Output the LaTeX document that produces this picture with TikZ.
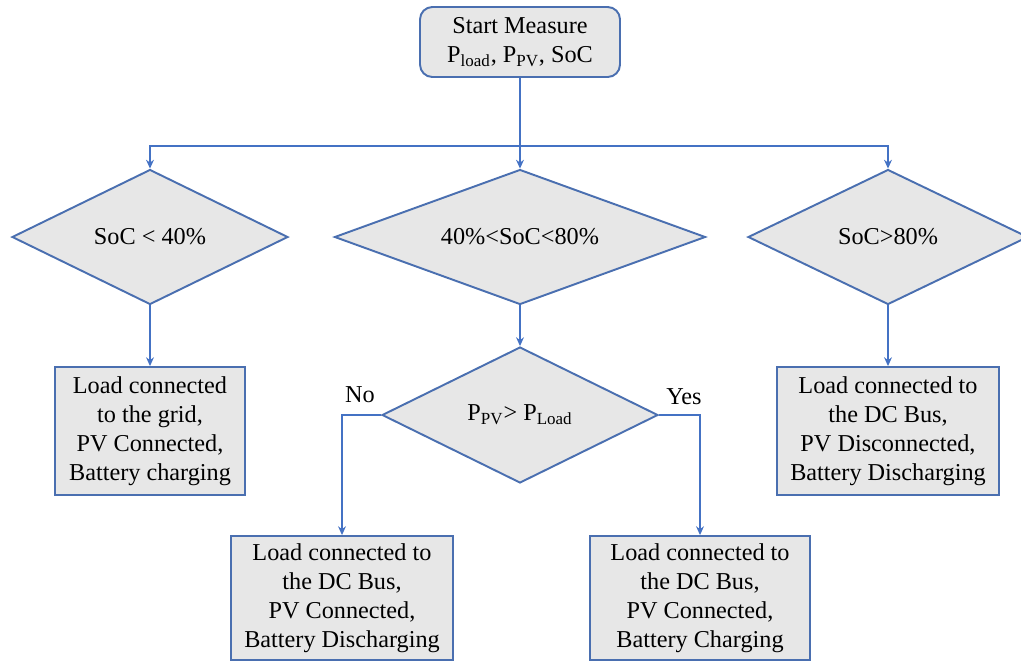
\documentclass[tikz,border=0pt]{standalone}
\usepackage{fontspec}
\setmainfont{Liberation Serif}
\usetikzlibrary{shapes.geometric,arrows.meta}
\definecolor{edgeblue}{HTML}{4A6FB0}
\definecolor{lineblue}{HTML}{4472C4}
\definecolor{boxgray}{HTML}{E7E7E7}
\tikzset{
  startbox/.style={draw=edgeblue, fill=boxgray, line width=1.1pt, rounded corners=7pt,
    minimum width=4cm, minimum height=1.4cm, align=center},
  decision/.style={diamond, draw=edgeblue, fill=boxgray, line width=1.1pt, inner sep=0pt,
    aspect=2.75, minimum height=2.7cm},
  statebox/.style={draw=edgeblue, fill=boxgray, line width=1.1pt, align=center,
    inner sep=0pt},
  link/.style={draw=lineblue, line width=0.6pt}
}
\begin{document}
\begin{tikzpicture}[x=0.02cm, y=-0.02cm, >={Stealth[length=5pt,width=4.5pt]},
    font=\fontsize{13.8}{16.5}\selectfont]
    \useasboundingbox (0,0) rectangle (1021,664);
    % start
    \node[startbox] (start) at (520,42) {Start Measure\\P\textsubscript{load}, P\textsubscript{PV}, SoC};
    % SoC decisions
    \node[decision, minimum width=5.52cm] (low) at (150,237) {SoC < 40\%};
    \node[decision, minimum width=7.42cm] (mid) at (520,237) {40\%<SoC<80\%};
    \node[decision, minimum width=5.6cm] (high) at (888,237) {SoC>80\%};
    % power decision
    \node[decision, minimum width=5.52cm, minimum height=2.72cm] (power) at (520,415)
        {P\textsubscript{PV}> P\textsubscript{Load}};
    % states
    \node[statebox, minimum width=3.8cm, minimum height=2.56cm] (grid) at (150,431)
        {Load connected\\to the grid,\\PV Connected,\\Battery charging};
    \node[statebox, minimum width=4.44cm, minimum height=2.56cm] (pvoff) at (888,431)
        {Load connected to\\the DC Bus,\\PV Disconnected,\\Battery Discharging};
    \node[statebox, minimum width=4.44cm, minimum height=2.48cm] (disch) at (342,598)
        {Load connected to\\the DC Bus,\\PV Connected,\\Battery Discharging};
    \node[statebox, minimum width=4.4cm, minimum height=2.48cm] (charg) at (700,598)
        {Load connected to\\the DC Bus,\\PV Connected,\\Battery Charging};
    % connectors
    \coordinate (split) at (520,146);
    \draw[link, ->] (start) -- (mid);
    \draw[link, ->] (split) -| (low.north);
    \draw[link, ->] (split) -| (high.north);
    \draw[link, ->] (low) -- (grid);
    \draw[link, ->] (mid) -- (power);
    \draw[link, ->] (high) -- (pvoff);
    \draw[link, ->] (power.west) -| (disch.north);
    \draw[link, ->] (power.east) -| (charg.north);
    \node (no) at (360,395) {No};
    \node (yes) at (684,397) {Yes};
\end{tikzpicture}
\end{document}
